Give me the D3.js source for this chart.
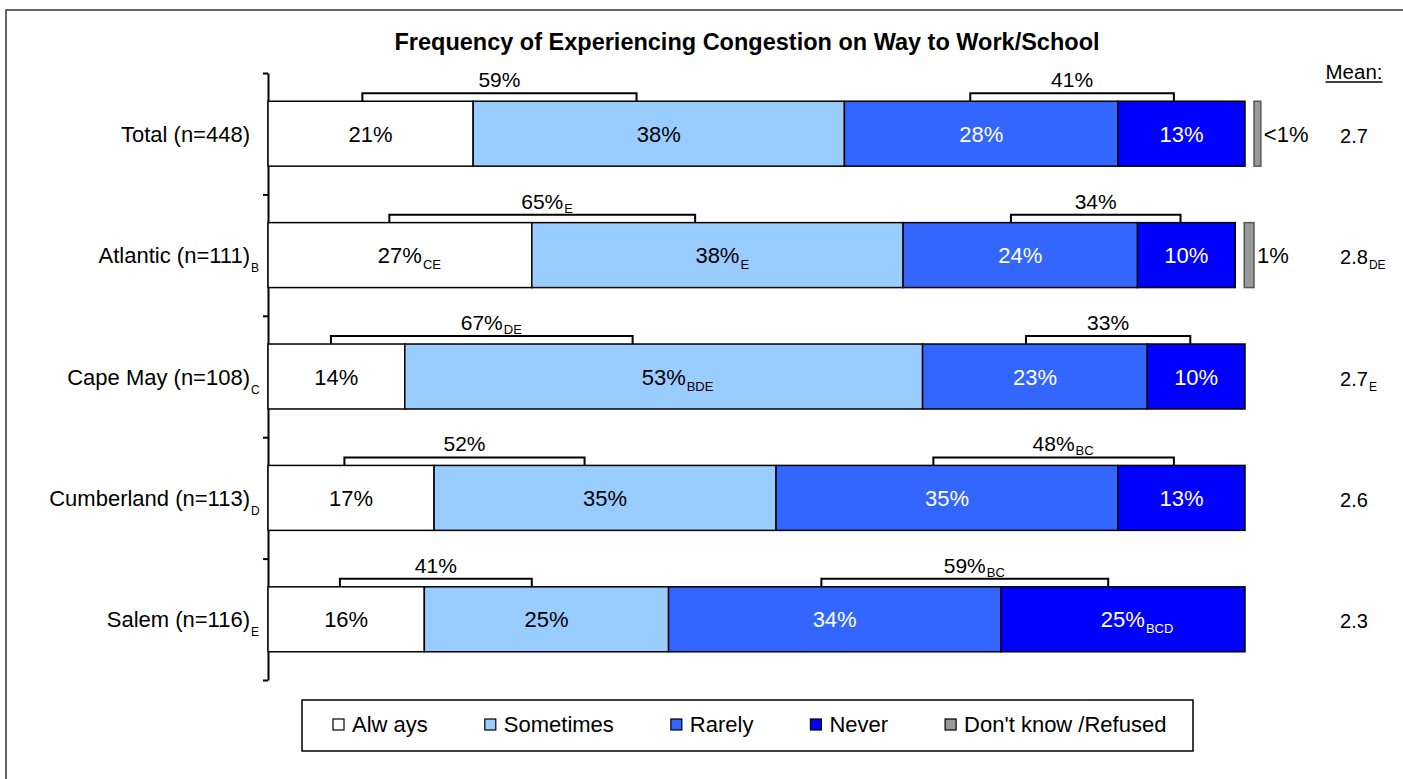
<!DOCTYPE html>
<html>
<head>
<meta charset="utf-8">
<script src="https://cdn.jsdelivr.net/npm/d3@7"></script>
<style>
body { margin: 0; background: #fff; }
text { font-family: Arial, "Liberation Sans", sans-serif; fill: #000; }
</style>
</head>
<body>
<svg width="1403" height="779"></svg>
<script>
// data
var rows = ["Total (n=448)", "Atlantic (n=111)", "Cape May (n=108)", "Cumberland (n=113)", "Salem (n=116)"];
var rowSub = ["", "B", "C", "D", "E"];
var keys = ["Always", "Sometimes", "Rarely", "Never"];
var always = [21, 27, 14, 17, 16];
var alwaysSub = ["", "CE", "", "", ""];
var sometimes = [38, 38, 53, 35, 25];
var sometimesSub = ["", "E", "BDE", "", ""];
var rarely = [28, 24, 23, 35, 34];
var rarelySub = ["", "", "", "", ""];
var never = [13, 10, 10, 13, 25];
var neverSub = ["", "", "", "", "BCD"];
var dontKnow = [0.7, 1, 0, 0, 0];
var dontKnowLabel = ["<1%", "1%", "", "", ""];
var netOften = [59, 65, 67, 52, 41];
var netOftenSub = ["", "E", "DE", "", ""];
var netRarely = [41, 34, 33, 48, 59];
var netRarelySub = ["", "", "", "BC", "BC"];
var means = [2.7, 2.8, 2.7, 2.6, 2.3];
var meanSub = ["", "DE", "E", "", ""];
var legendLabels = ["Alw ays", "Sometimes", "Rarely", "Never", "Don't know /Refused"];

var colors = { Always: "#ffffff", Sometimes: "#99ccff", Rarely: "#3366ff", Never: "#0000ff", DK: "#999999" };
var textColors = { Always: "#000", Sometimes: "#000", Rarely: "#fff", Never: "#fff" };
var subs = { Always: alwaysSub, Sometimes: sometimesSub, Rarely: rarelySub, Never: neverSub };

var svg = d3.select("svg");

// outer frame
svg.append("rect").attr("x", 6).attr("y", 10).attr("width", 1420).attr("height", 800)
  .attr("fill", "none").attr("stroke", "#333").attr("stroke-width", 1.5);

// title
svg.append("text").attr("x", 747).attr("y", 50).attr("text-anchor", "middle")
  .attr("font-size", 23.5).attr("font-weight", "bold")
  .text("Frequency of Experiencing Congestion on Way to Work/School");

var table = rows.map(function(r, i) {
  return { row: r, i: i, Always: always[i], Sometimes: sometimes[i], Rarely: rarely[i], Never: never[i] };
});
var series = d3.stack().keys(keys)(table);

var x = d3.scaleLinear().domain([0, 100]).range([268, 1245]);
var y = d3.scaleBand().domain(rows).range([73, 680]).paddingInner(0.465).paddingOuter(0.2325);
var bw = y.bandwidth();

// axis with ticks between the rows
var yTick = d3.scaleLinear().domain([0, rows.length]).range([73, 680]);
var axis = svg.append("g").attr("transform", "translate(268,0)")
  .call(d3.axisLeft(yTick).ticks(rows.length).tickSize(5).tickSizeOuter(0).tickFormat(""));
axis.select(".domain").attr("stroke", "#000").attr("stroke-width", 2);
axis.selectAll(".tick line").attr("stroke", "#000").attr("stroke-width", 2);

// bars
var g = svg.append("g");
series.forEach(function(s) {
  g.selectAll(".bar-" + s.key)
    .data(s)
    .enter()
    .append("rect")
    .attr("x", function(d) { return x(d[0]); })
    .attr("y", function(d) { return y(d.data.row); })
    .attr("width", function(d) { return x(d[1]) - x(d[0]); })
    .attr("height", bw)
    .attr("fill", colors[s.key])
    .attr("stroke", "#000")
    .attr("stroke-width", 1.5);
});

// label with optional subscript, main text placed at cx
function subLabel(parent, cx, cy, main, sub, size, subSize, subDy, fill, anchor) {
  var t = parent.append("text").attr("x", cx).attr("y", cy)
    .attr("text-anchor", anchor || "middle").attr("font-size", size)
    .style("fill", fill).text(main);
  if (sub) {
    var w = t.node().getComputedTextLength();
    var sx = anchor === "end" ? cx + 1 : (anchor === "start" ? cx + w + 1 : cx + w / 2 + 1);
    parent.append("text").attr("x", sx).attr("y", cy + subDy)
      .attr("font-size", subSize).style("fill", fill).text(sub);
  }
}

// segment labels
series.forEach(function(s) {
  s.forEach(function(d) {
    var cx = (x(d[0]) + x(d[1])) / 2;
    var cy = y(d.data.row) + bw / 2 + 8;
    var sub = subs[s.key][d.data.i];
    subLabel(g, cx, cy, d.data[s.key] + "%", sub && s.key === "Always" ? " " + sub : sub, 22, 13, 6, textColors[s.key]);
  });
});

// net brackets
function bracket(i, sA, sB, value, sub) {
  var dA = series[sA][i], dB = series[sB][i];
  var x1 = x(dA[0]) + (x(dA[1]) - x(dA[0])) * 0.46;
  var x2 = x(dB[0]) + (x(dB[1]) - x(dB[0])) * 0.44;
  var top = y(rows[i]);
  g.append("path")
    .attr("d", "M" + x1 + "," + top + "V" + (top - 8) + "H" + x2 + "V" + top)
    .attr("fill", "none").attr("stroke", "#000").attr("stroke-width", 2);
  subLabel(g, (x1 + x2) / 2, top - 14, value + "%", sub, 21, 13, 4, "#000");
}
rows.forEach(function(r, i) {
  bracket(i, 0, 1, netOften[i], netOftenSub[i]);
  bracket(i, 2, 3, netRarely[i], netRarelySub[i]);
});

// don't know bars
rows.forEach(function(r, i) {
  if (!dontKnow[i]) return;
  var end = x(series[3][i][1]);
  var bx = end + 9;
  var w = x(dontKnow[i]) - x(0);
  g.append("rect").attr("x", bx).attr("y", y(r)).attr("width", w).attr("height", bw)
    .attr("fill", colors.DK).attr("stroke", "#555").attr("stroke-width", 1.5);
  g.append("text").attr("x", bx + w + 3).attr("y", y(r) + bw / 2 + 8)
    .attr("font-size", 22).text(dontKnowLabel[i]);
});

// row labels
rows.forEach(function(r, i) {
  subLabel(svg, 250, y(r) + bw / 2 + 8, r, rowSub[i], 22, 12, 9, "#000", "end");
});

// means
var mh = svg.append("text").attr("x", 1354).attr("y", 79).attr("text-anchor", "middle")
  .attr("font-size", 20.5).text("Mean:");
var mw = mh.node().getComputedTextLength();
svg.append("line").attr("x1", 1354 - mw / 2).attr("x2", 1354 + mw / 2)
  .attr("y1", 82).attr("y2", 82).attr("stroke", "#000").attr("stroke-width", 1.5);
rows.forEach(function(r, i) {
  subLabel(svg, 1354, y(r) + bw / 2 + 9, d3.format(".1f")(means[i]), meanSub[i], 20, 12, 5, "#000");
});

// legend
var lg = svg.append("g");
lg.append("rect").attr("x", 302).attr("y", 700).attr("width", 891).attr("height", 51)
  .attr("fill", "#fff").attr("stroke", "#000").attr("stroke-width", 1.5);
var legendColors = [colors.Always, colors.Sometimes, colors.Rarely, colors.Never, colors.DK];
var lx = 333;
legendLabels.forEach(function(l, i) {
  lg.append("rect").attr("x", lx).attr("y", 719).attr("width", 11).attr("height", 11)
    .attr("fill", legendColors[i]).attr("stroke", "#000").attr("stroke-width", 1.2);
  var t = lg.append("text").attr("x", lx + 19).attr("y", 732).attr("font-size", 22).text(l);
  lx += 19 + t.node().getComputedTextLength() + 57;
});
</script>
</body>
</html>
